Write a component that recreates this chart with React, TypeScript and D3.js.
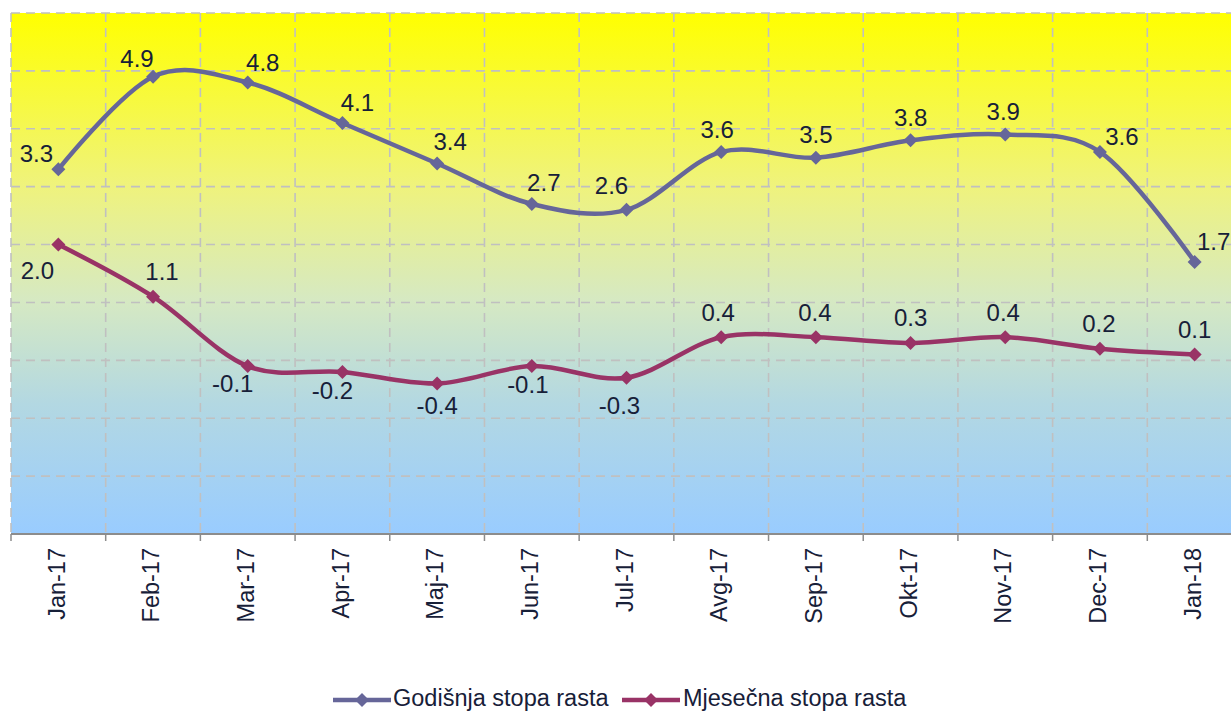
import React from 'react';
import * as d3 from 'd3';

const width = 1231;
const height = 713;
const margin = { top: 13, left: 11, bottom: 534 };
const plotRight = 1242;

const months = ['Jan-17', 'Feb-17', 'Mar-17', 'Apr-17', 'Maj-17', 'Jun-17', 'Jul-17', 'Avg-17', 'Sep-17', 'Okt-17', 'Nov-17', 'Dec-17', 'Jan-18'];
const godisnja = [3.3, 4.9, 4.8, 4.1, 3.4, 2.7, 2.6, 3.6, 3.5, 3.8, 3.9, 3.6, 1.7];
const mjesecna = [2.0, 1.1, -0.1, -0.2, -0.4, -0.1, -0.3, 0.4, 0.4, 0.3, 0.4, 0.2, 0.1];
const yTicks = [-3, -2, -1, 0, 1, 2, 3, 4, 5, 6];

// label placement (offsets from the point, in px)
const godDx = [-22, -16, 15, 15, 13, 12, -15, -4, 0, 0, -2, 22, 19];
const godDy = [-14, -16, -18, -18, -20, -19, -22, -20, -21, -21, -21, -13, -18];
const mjeDx = [-21, 9, -15, -10, 0, -4, -7, -3, -1, 0, -2, -1, 0];
const mjeDy = [28, -23, 20, 21, 24, 21, 30, -23, -23, -23, -23, -23, -23];

const colorGod = '#666699';
const colorMje = '#993366';
const textColor = '#172038';

const x = d3.scaleBand().domain(months).range([margin.left, plotRight]);
const y = d3.scaleLinear().domain([-3, 6]).range([margin.bottom, margin.top]);
const cx = (m: string) => (x(m) as number) + x.bandwidth() / 2;

const line = d3.line<number>()
  .x((_, i) => cx(months[i]))
  .y((d) => y(d))
  .curve(d3.curveCardinal.tension(0));

const diamond = (px: number, py: number, r = 7) =>
  `M${px},${py - r}L${px + r},${py}L${px},${py + r}L${px - r},${py}Z`;

function Series({ values, color, dx, dy }: { values: number[]; color: string; dx: number[]; dy: number[] }) {
  return (
    <g>
      <path d={line(values) || ''} fill="none" stroke={color} strokeWidth={4.5} />
      {values.map((v, i) => (
        <path key={i} d={diamond(cx(months[i]), y(v))} fill={color} />
      ))}
      {values.map((v, i) => (
        <text key={'t' + i} x={cx(months[i]) + dx[i]} y={y(v) + dy[i]} textAnchor="middle" dominantBaseline="middle"
          fontSize={24} fill={textColor}>{v.toFixed(1)}</text>
      ))}
    </g>
  );
}

export default function App() {
  const bounds = months.map((m) => x(m) as number).concat([plotRight]);
  return (
    <div style={{ position: 'absolute', left: 0, top: 0 }}>
      <svg width={width} height={height} style={{ display: 'block', fontFamily: 'Liberation Sans, Arial, sans-serif' }}>
        <defs>
          <linearGradient id="bg" x1="0" y1="0" x2="0" y2="1">
            <stop offset="0" stopColor="#ffff00" />
            <stop offset="0.33" stopColor="#eff37c" />
            <stop offset="0.55" stopColor="#d6e9c2" />
            <stop offset="0.75" stopColor="#b3d8e2" />
            <stop offset="1" stopColor="#99ccff" />
          </linearGradient>
        </defs>
        <rect x={margin.left} y={margin.top} width={plotRight - margin.left} height={margin.bottom - margin.top} fill="url(#bg)" />
        {yTicks.slice(1).map((t) => (
          <line key={t} x1={margin.left} x2={plotRight} y1={y(t)} y2={y(t)} stroke="#c0c0c0" strokeWidth={1.6} strokeDasharray="9,6" />
        ))}
        {bounds.map((b, i) => (
          <line key={i} x1={b} x2={b} y1={margin.top} y2={margin.bottom} stroke="#c0c0c0" strokeWidth={1.6} strokeDasharray="9,6" />
        ))}
        <line x1={margin.left} x2={plotRight} y1={margin.bottom} y2={margin.bottom} stroke="#8c8c8c" strokeWidth={2} />
        {bounds.map((b, i) => (
          <line key={'k' + i} x1={b} x2={b} y1={margin.bottom} y2={margin.bottom + 7} stroke="#8c8c8c" strokeWidth={1.5} />
        ))}
        {months.map((m) => (
          <text key={m} transform={`translate(${cx(m)},${margin.bottom + 14}) rotate(-90)`} textAnchor="end"
            dominantBaseline="middle" fontSize={23.5} fill={textColor}>{m}</text>
        ))}
        <Series values={godisnja} color={colorGod} dx={godDx} dy={godDy} />
        <Series values={mjesecna} color={colorMje} dx={mjeDx} dy={mjeDy} />
        <g>
          <line x1={333} x2={391} y1={700} y2={700} stroke={colorGod} strokeWidth={4.5} />
          <path d={diamond(362, 700)} fill={colorGod} />
          <text x={393} y={700} dominantBaseline="middle" fontSize={23.5} fill={textColor}>Godišnja stopa rasta</text>
          <line x1={622} x2={680} y1={700} y2={700} stroke={colorMje} strokeWidth={4.5} />
          <path d={diamond(651, 700)} fill={colorMje} />
          <text x={683} y={700} dominantBaseline="middle" fontSize={23.5} fill={textColor}>Mjesečna stopa rasta</text>
        </g>
      </svg>
    </div>
  );
}
